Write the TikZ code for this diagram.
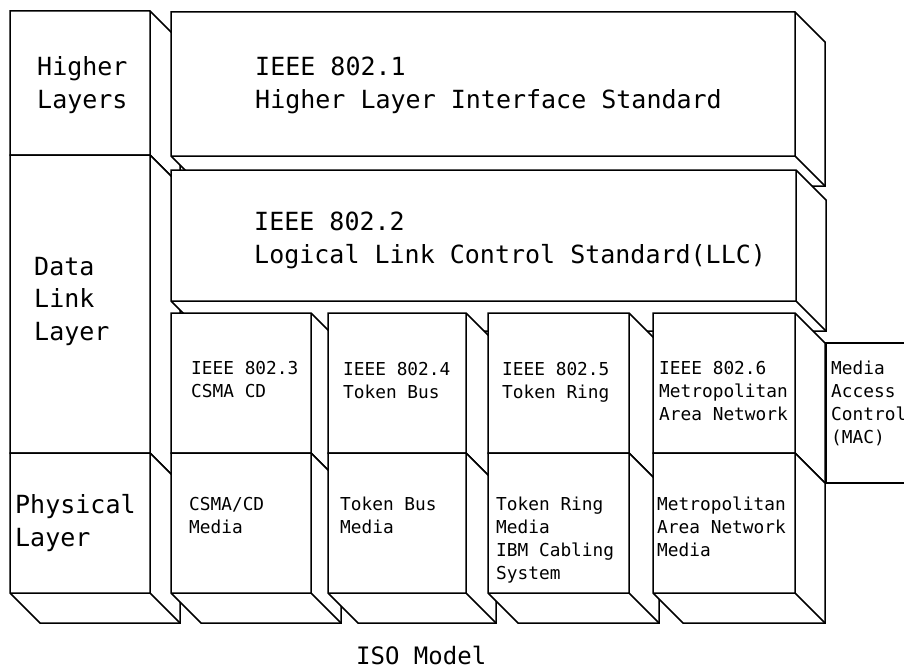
\documentclass[tikz,border=0pt]{standalone}
\usepackage{fontspec}
\newfontfamily\typew{DejaVu Sans Mono}
\newcommand\isobox[4]{%
  \path[boxline] (#1,#2) -- (#3,#2) -- (#3+30,#2+30) -- (#3+30,#4+30) -- (#1+30,#4+30) -- (#1,#4) -- cycle;
  \draw[boxline,fill=none] (#3,#2) -- (#3,#4) -- (#1,#4) (#3,#4) -- (#3+30,#4+30);%
}
\begin{document}
\begin{tikzpicture}[x=1pt,y=-1pt,
  boxline/.style={draw=black,fill=white,line width=1.5pt,line join=miter},
  big/.style={inner sep=0pt,anchor=base west,align=left,font={\typew\fontsize{25}{32.5}\selectfont}},
  small/.style={inner sep=0pt,anchor=base west,align=left,font={\typew\fontsize{17.8}{23}\selectfont}}]
\clip (0,0) rectangle (904,669);
\fill[white] (0,0) rectangle (904,669);
% left column
\isobox{10}{11}{150}{155}
\isobox{10}{155}{150}{453}
\isobox{10}{453}{150}{593}
% upper standards
\isobox{171}{12}{795}{156}
\isobox{171}{170}{796}{301}
% 802.x columns
\isobox{171}{313}{311}{453}
\isobox{171}{453}{311}{593}
\isobox{328}{313}{466}{453}
\isobox{328}{453}{466}{593}
\isobox{488}{313}{629}{453}
\isobox{488}{453}{629}{593}
\isobox{653}{313}{795}{453}
\isobox{653}{453}{795}{593}
% MAC panel
\draw[boxline] (826,343) rectangle (950,483);
% texts (anchor = baseline of the last line)
\node[big] (hl) at (37,108) {Higher\\Layers};
\node[big] (dll) at (34,340) {Data\\Link\\Layer};
\node[big] (pl) at (15,546) {Physical\\Layer};
\node[big] (t1) at (255,108) {IEEE 802.1\\Higher Layer Interface Standard};
\node[big] (t2) at (254,263) {IEEE 802.2\\Logical Link Control Standard(LLC)};
\node[small] (t3) at (191,397) {IEEE 802.3\\CSMA CD};
\node[small] (t4) at (343,398) {IEEE 802.4\\Token Bus};
\node[small] (t5) at (502,398) {IEEE 802.5\\Token Ring};
\node[small] (t6) at (659,420) {IEEE 802.6\\Metropolitan\\Area Network};
\node[small] (mac) at (831,443) {Media\\Access\\Control\\(MAC)};
\node[small] (p3) at (189,533) {CSMA/CD\\Media};
\node[small] (p4) at (340,533) {Token Bus\\Media};
\node[small] (p5) at (496,579) {Token Ring\\Media\\IBM Cabling\\System};
\node[small] (p6) at (657,556) {Metropolitan\\Area Network\\Media};
\node[big,font={\typew\fontsize{24}{30}\selectfont}] (iso) at (356,664) {ISO Model};
\end{tikzpicture}
\end{document}
